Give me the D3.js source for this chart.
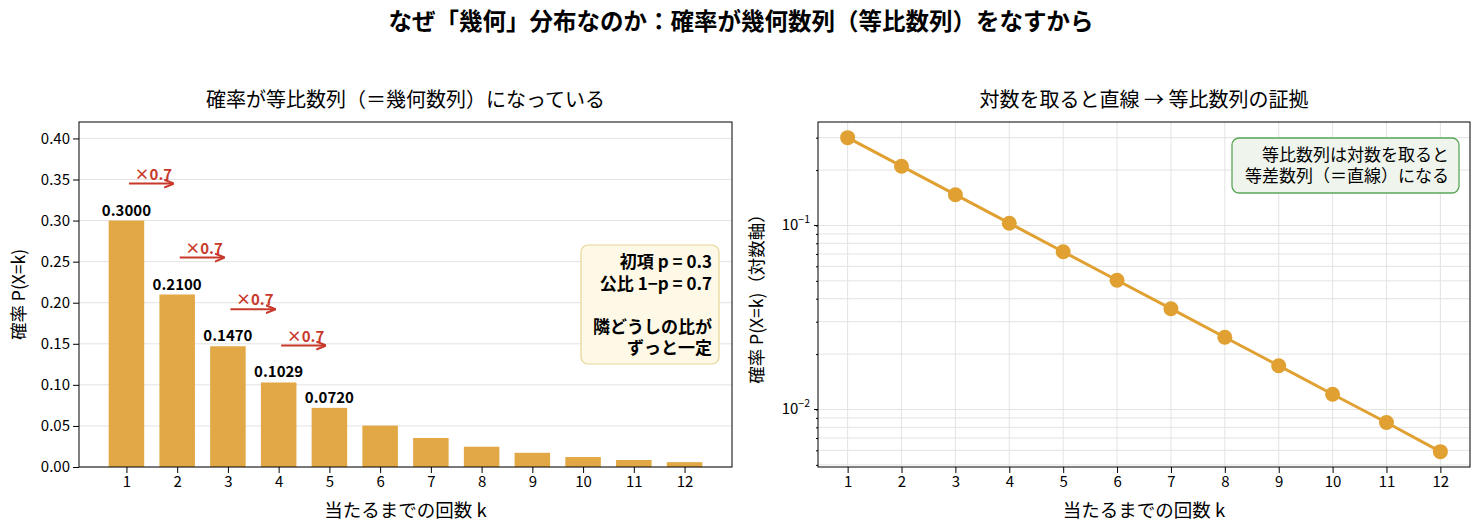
<!DOCTYPE html>
<html>
  <head>
    <meta charset="utf-8" />
    <title>幾何分布</title>
    <script src="https://d3js.org/d3.v7.min.js"></script>
    <style>
      body { margin: 0; background: white; }
      svg { font-family: "Noto Sans CJK JP", "Noto Sans", sans-serif; }
      .grid line { stroke: #e3e3e3; }
    </style>
  </head>
  <body>
    <svg width="1482" height="531" id="chart"></svg>
    <script>
      // data
      const ks = [1, 2, 3, 4, 5, 6, 7, 8, 9, 10, 11, 12];
      const probs = [0.3000, 0.2100, 0.1470, 0.1029, 0.0720, 0.0504, 0.0353, 0.0247, 0.0173, 0.0121, 0.0085, 0.0059];
      const labelled = ["0.3000", "0.2100", "0.1470", "0.1029", "0.0720"];
      const ratioLabel = "×0.7";
      const ratioSteps = [1, 2, 3, 4];
      const yTicksLin = [0, 0.05, 0.10, 0.15, 0.20, 0.25, 0.30, 0.35, 0.40];

      const barColor = "#e2a845";
      const lineColor = "#e0a032";
      const red = "#c8392b";
      const tickFont = 15;

      const svg = d3.select("#chart");

      svg.append("text")
        .attr("x", 741).attr("y", 30)
        .attr("text-anchor", "middle")
        .attr("font-size", 23.5).attr("font-weight", "bold")
        .text("なぜ「幾何」分布なのか：確率が幾何数列（等比数列）をなすから");

      svg.append("defs").append("marker")
        .attr("id", "arr")
        .attr("viewBox", "0 0 10 10")
        .attr("refX", 9).attr("refY", 5)
        .attr("markerWidth", 5).attr("markerHeight", 5)
        .attr("orient", "auto")
        .append("path")
        .attr("d", "M0,1 L10,5 L0,9")
        .attr("fill", "none")
        .attr("stroke", red).attr("stroke-width", 2);

      // ---------- left panel ----------
      const L = { x0: 79, x1: 732, y0: 122, y1: 467 };
      const xL = d3.scaleLinear().domain([0.065, 12.935]).range([L.x0, L.x1]);
      const yL = d3.scaleLinear().domain([0, 0.42]).range([L.y1, L.y0]);
      const left = svg.append("g");

      left.append("g").attr("class", "grid")
        .selectAll("line").data(yTicksLin).enter().append("line")
        .attr("x1", L.x0).attr("x2", L.x1)
        .attr("y1", d => yL(d)).attr("y2", d => yL(d));

      const bw = xL(0.7) - xL(0);
      left.selectAll("rect.bar").data(probs).enter().append("rect")
        .attr("class", "bar")
        .attr("x", (d, i) => xL(ks[i]) - bw / 2)
        .attr("width", bw)
        .attr("y", d => yL(d))
        .attr("height", d => yL(0) - yL(d))
        .attr("fill", barColor);

      left.selectAll("text.val").data(labelled).enter().append("text")
        .attr("x", (d, i) => xL(ks[i]))
        .attr("y", (d, i) => yL(probs[i]) - 5)
        .attr("text-anchor", "middle")
        .attr("font-size", 15).attr("font-weight", "bold")
        .text(d => d);

      ratioSteps.forEach(k => {
        const yv = probs[k - 1] + 0.045;
        left.append("line")
          .attr("x1", xL(k + 0.05)).attr("x2", xL(k + 0.92))
          .attr("y1", yL(yv)).attr("y2", yL(yv))
          .attr("stroke", red).attr("stroke-width", 2)
          .attr("marker-end", "url(#arr)");
        left.append("text")
          .attr("x", xL(k + 0.53)).attr("y", yL(yv) - 4)
          .attr("text-anchor", "middle")
          .attr("font-size", 15).attr("font-weight", "bold")
          .attr("fill", red)
          .text(ratioLabel);
      });

      left.append("g").attr("transform", `translate(0,${L.y1})`)
        .call(d3.axisBottom(xL).tickValues(ks).tickSizeOuter(0).tickFormat(d3.format("d")))
        .call(g => g.select(".domain").remove())
        .call(g => g.attr("font-size", tickFont).attr("font-family", null));
      left.append("g").attr("transform", `translate(${L.x0},0)`)
        .call(d3.axisLeft(yL).tickValues(yTicksLin).tickSizeOuter(0).tickFormat(d3.format(".2f")))
        .call(g => g.select(".domain").remove())
        .call(g => g.attr("font-size", tickFont).attr("font-family", null));
      left.append("rect")
        .attr("x", L.x0).attr("y", L.y0)
        .attr("width", L.x1 - L.x0).attr("height", L.y1 - L.y0)
        .attr("fill", "none").attr("stroke", "black");

      // info box
      left.append("rect")
        .attr("x", 581).attr("y", 245).attr("width", 138).attr("height", 119)
        .attr("rx", 7)
        .attr("fill", "#fef9e6").attr("stroke", "#e6d595").attr("stroke-width", 1.2);
      const infoLines = ["初項 p = 0.3", "公比 1−p = 0.7", "", "隣どうしの比が", "ずっと一定"];
      left.selectAll("text.info").data(infoLines).enter().append("text")
        .attr("x", 712).attr("y", (d, i) => 268 + i * 21.5)
        .attr("text-anchor", "end")
        .attr("font-size", 17).attr("font-weight", "bold")
        .text(d => d);

      left.append("text")
        .attr("x", (L.x0 + L.x1) / 2).attr("y", 107)
        .attr("text-anchor", "middle").attr("font-size", 20)
        .text("確率が等比数列（＝幾何数列）になっている");
      left.append("text")
        .attr("x", (L.x0 + L.x1) / 2).attr("y", 517)
        .attr("text-anchor", "middle").attr("font-size", 18.5)
        .text("当たるまでの回数 k");
      left.append("text")
        .attr("transform", `translate(25,${(L.y0 + L.y1) / 2}) rotate(-90)`)
        .attr("text-anchor", "middle").attr("font-size", 17.5)
        .text("確率 P(X=k)");

      // ---------- right panel ----------
      const R = { x0: 818, x1: 1470, y0: 122, y1: 467 };
      const xR = d3.scaleLinear().domain([0.45, 12.55]).range([R.x0, R.x1]);
      const yR = d3.scaleLog().domain([0.00487, 0.365]).range([R.y1, R.y0]);
      const right = svg.append("g");

      const allTicks = yR.ticks();
      right.append("g").attr("class", "grid")
        .selectAll("line").data(allTicks).enter().append("line")
        .attr("x1", R.x0).attr("x2", R.x1)
        .attr("y1", d => yR(d)).attr("y2", d => yR(d));
      right.append("g").attr("class", "grid")
        .selectAll("line").data(ks).enter().append("line")
        .attr("y1", R.y0).attr("y2", R.y1)
        .attr("x1", d => xR(d)).attr("x2", d => xR(d));

      const line = d3.line().x((d, i) => xR(ks[i])).y(d => yR(d));
      right.append("path").datum(probs)
        .attr("d", line)
        .attr("fill", "none").attr("stroke", lineColor).attr("stroke-width", 3);
      right.selectAll("circle").data(probs).enter().append("circle")
        .attr("cx", (d, i) => xR(ks[i])).attr("cy", d => yR(d))
        .attr("r", 7.5).attr("fill", lineColor);

      right.append("g").attr("transform", `translate(0,${R.y1})`)
        .call(d3.axisBottom(xR).tickValues(ks).tickSizeOuter(0).tickFormat(d3.format("d")))
        .call(g => g.select(".domain").remove())
        .call(g => g.attr("font-size", tickFont).attr("font-family", null));

      const majors = [0.1, 0.01];
      const yAx = right.append("g").attr("transform", `translate(${R.x0},0)`);
      yAx.call(d3.axisLeft(yR).tickValues(allTicks).tickSize(2).tickFormat(""))
        .call(g => g.select(".domain").remove());
      yAx.selectAll(".major").data(majors).enter().append("line")
        .attr("x1", -4).attr("x2", 0)
        .attr("y1", d => yR(d)).attr("y2", d => yR(d))
        .attr("stroke", "black");
      const mt = yAx.selectAll("text.maj").data(majors).enter().append("text")
        .attr("x", -8).attr("y", d => yR(d) + 5)
        .attr("fill", "black")
        .attr("font-family", "Noto Sans CJK JP")
        .attr("text-anchor", "end").attr("font-size", tickFont);
      mt.append("tspan").text("10");
      mt.append("tspan").attr("dy", -7).attr("font-size", 10.5)
        .text(d => "−" + Math.round(-Math.log10(d)));

      right.append("rect")
        .attr("x", R.x0).attr("y", R.y0)
        .attr("width", R.x1 - R.x0).attr("height", R.y1 - R.y0)
        .attr("fill", "none").attr("stroke", "black");

      right.append("rect")
        .attr("x", 1232).attr("y", 138).attr("width", 227).attr("height", 55)
        .attr("rx", 7)
        .attr("fill", "#eff5ed").attr("stroke", "#5aa659").attr("stroke-width", 1.3);
      const noteLines = ["等比数列は対数を取ると", "等差数列（＝直線）になる"];
      right.selectAll("text.note").data(noteLines).enter().append("text")
        .attr("x", 1449).attr("y", (d, i) => 161 + i * 21)
        .attr("text-anchor", "end").attr("font-size", 17)
        .text(d => d);

      right.append("text")
        .attr("x", (R.x0 + R.x1) / 2).attr("y", 107)
        .attr("text-anchor", "middle").attr("font-size", 20)
        .text("対数を取ると直線 → 等比数列の証拠");
      right.append("text")
        .attr("x", (R.x0 + R.x1) / 2).attr("y", 517)
        .attr("text-anchor", "middle").attr("font-size", 18.5)
        .text("当たるまでの回数 k");
      right.append("text")
        .attr("transform", `translate(763,${(R.y0 + R.y1) / 2}) rotate(-90)`)
        .attr("text-anchor", "middle").attr("font-size", 17.5)
        .text("確率 P(X=k)（対数軸）");
    </script>
  </body>
</html>
